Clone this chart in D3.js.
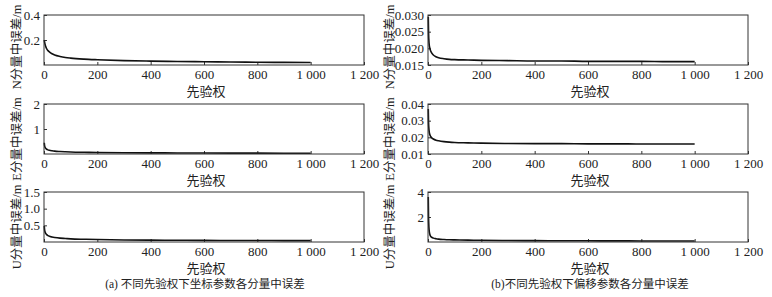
<!DOCTYPE html>
<html>
<head>
<meta charset="utf-8">
<script src="https://cdn.jsdelivr.net/npm/d3@7"></script>
<style>
    body { margin: 0; background: white; }
    svg text { font-family: "Liberation Serif", "Noto Sans CJK SC", serif; fill: #222; }
</style>
</head>
<body>
<svg width="772" height="297"></svg>
<script>
// prior weight (x) shared by every panel
let priorWeight = [1, 2, 4, 7, 10, 15, 20, 30, 40, 60, 80, 100, 150, 200, 300, 400, 500, 600, 700, 800, 900, 1000];
let xTicks = [0, 200, 400, 600, 800, 1000, 1200];

// (a) coordinate parameters
let coordN = [0.20, 0.185, 0.165, 0.145, 0.13, 0.115, 0.105, 0.09, 0.08, 0.068, 0.06, 0.055, 0.047, 0.042, 0.035, 0.031, 0.028, 0.026, 0.024, 0.022, 0.021, 0.02];
let coordE = [0.45, 0.35, 0.27, 0.22, 0.19, 0.165, 0.15, 0.13, 0.115, 0.1, 0.09, 0.082, 0.07, 0.062, 0.052, 0.046, 0.042, 0.039, 0.036, 0.034, 0.032, 0.031];
let coordU = [0.48, 0.38, 0.30, 0.25, 0.22, 0.19, 0.17, 0.15, 0.135, 0.115, 0.105, 0.095, 0.082, 0.073, 0.062, 0.056, 0.052, 0.048, 0.046, 0.044, 0.042, 0.04];

// (b) offset parameters
let offsetN = [0.0295, 0.025, 0.0215, 0.0200, 0.0192, 0.0185, 0.0180, 0.0175, 0.0172, 0.0169, 0.0167, 0.0166, 0.0165, 0.0164, 0.0163, 0.0162, 0.0162, 0.0161, 0.0161, 0.0161, 0.0160, 0.0160];
let offsetE = [0.037, 0.029, 0.024, 0.0215, 0.0205, 0.0195, 0.019, 0.0183, 0.0179, 0.0174, 0.0171, 0.0169, 0.0167, 0.0165, 0.0163, 0.0162, 0.0162, 0.0161, 0.0161, 0.016, 0.016, 0.016];
let offsetU = [3.6, 2.0, 1.0, 0.6, 0.45, 0.36, 0.31, 0.26, 0.23, 0.2, 0.18, 0.17, 0.15, 0.135, 0.12, 0.11, 0.1, 0.095, 0.09, 0.085, 0.08, 0.078];

let xLabel = "先验权";
let captions = ["(a) 不同先验权下坐标参数各分量中误差", "(b)不同先验权下偏移参数各分量中误差"];

const svg = d3.select("svg");
const plotW = 320, plotH = 50;
const colLeft = [44, 428];
const rowTop = [15, 104, 192];
const captionX = [205, 590];

const fmtX = d => d >= 1000 ? d3.format(",")(d).replace(",", " ") : d;

const drawPanel = (col, row, values, domain, yTicks, yFmt, yTitle) => {
    let x0 = colLeft[col], y0 = rowTop[row];
    let g = svg.append("g").attr("transform", `translate(${x0}, ${y0})`);

    let xScale = d3.scaleLinear().domain([0, 1200]).range([0, plotW]);
    let yScale = d3.scaleLinear().domain(domain).range([plotH, 0]);

    let xAxis = d3.axisBottom(xScale).tickValues(xTicks).tickFormat(fmtX)
        .tickSizeInner(-3).tickSizeOuter(0).tickPadding(6);
    let yAxis = d3.axisLeft(yScale).tickValues(yTicks).tickFormat(yFmt)
        .tickSizeInner(-3).tickSizeOuter(0).tickPadding(4);

    let gx = g.append("g").attr("transform", `translate(0, ${plotH})`).call(xAxis);
    let gy = g.append("g").call(yAxis);
    [gx, gy].forEach(a => {
        a.select(".domain").remove();
        a.selectAll("line").attr("stroke", "#333");
        a.selectAll("text").attr("font-size", 13).attr("fill", "#222")
            .attr("font-family", "Liberation Serif");
    });
    gx.selectAll("text").attr("dy", "0.6em");

    let line = d3.line()
        .x((d, i) => xScale(priorWeight[i]))
        .y(d => yScale(d))
        .curve(d3.curveMonotoneX);

    g.append("path")
        .datum(values)
        .attr("d", line)
        .attr("fill", "none")
        .attr("stroke", "#111")
        .attr("stroke-width", 1.6);

    g.append("rect")
        .attr("x", 0).attr("y", 0)
        .attr("width", plotW).attr("height", plotH)
        .attr("fill", "none").attr("stroke", "#333").attr("stroke-width", 1);

    g.append("text")
        .attr("x", plotW / 2 + 2)
        .attr("y", plotH + 31)
        .attr("text-anchor", "middle")
        .attr("font-size", 13)
        .text(xLabel);

    let labelX = col == 0 ? -27 : -38;
    g.append("text")
        .attr("transform", `translate(${labelX}, ${plotH / 2 + (row == 0 ? 7 : 10)}) rotate(-90)`)
        .attr("text-anchor", "middle")
        .attr("dy", "0.35em")
        .attr("font-size", 12.5)
        .text(yTitle);
};

drawPanel(0, 0, coordN, [0, 0.4], [0.2, 0.4], d3.format(".1f"), "N分量中误差/m");
drawPanel(0, 1, coordE, [0, 2], [1, 2], d3.format("d"), "E分量中误差/m");
drawPanel(0, 2, coordU, [0, 1.5], [0.5, 1.0, 1.5], d3.format(".1f"), "U分量中误差/m");
drawPanel(1, 0, offsetN, [0.015, 0.030], [0.015, 0.020, 0.025, 0.030], d3.format(".3f"), "N分量中误差/m");
drawPanel(1, 1, offsetE, [0.01, 0.04], [0.01, 0.02, 0.03, 0.04], d3.format(".2f"), "E分量中误差/m");
drawPanel(1, 2, offsetU, [0, 4], [2, 4], d3.format("d"), "U分量中误差/m");

captions.forEach((c, i) => {
    svg.append("text")
        .attr("x", captionX[i])
        .attr("y", 288)
        .attr("text-anchor", "middle")
        .attr("font-size", 11.5)
        .text(c);
});
</script>
</body>
</html>
